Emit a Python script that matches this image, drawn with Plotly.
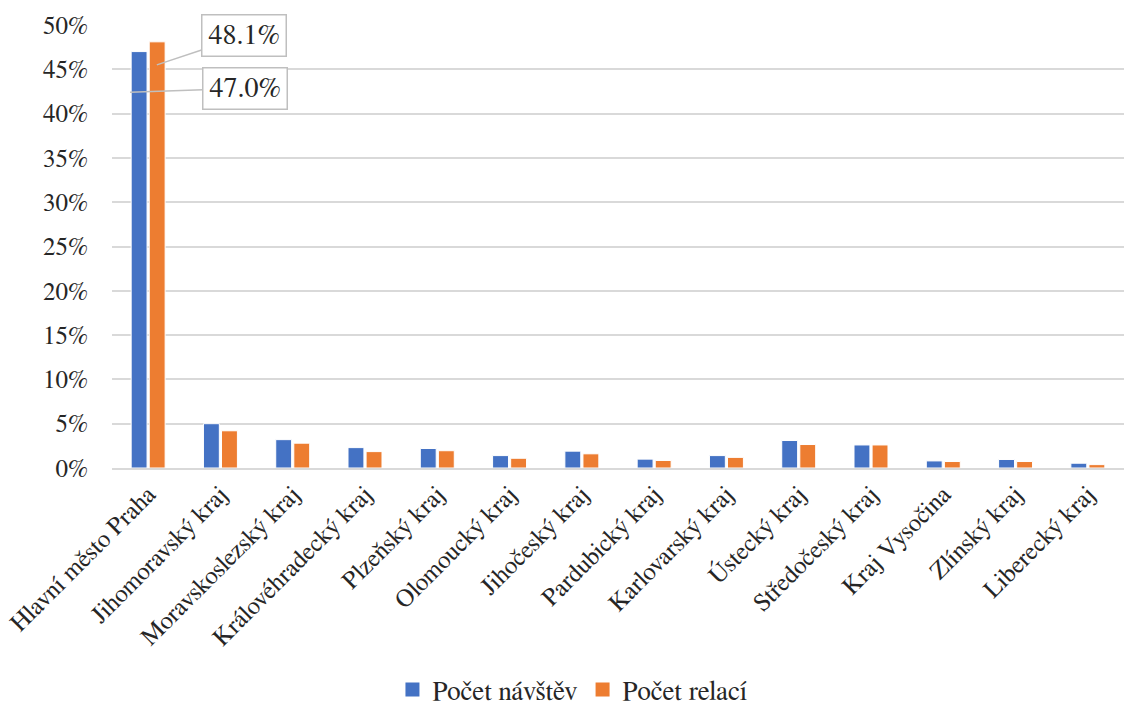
import plotly.graph_objects as go

categories = ["Hlavní město Praha", "Jihomoravský kraj", "Moravskoslezský kraj",
              "Královéhradecký kraj", "Plzeňský kraj", "Olomoucký kraj",
              "Jihočeský kraj", "Pardubický kraj", "Karlovarský kraj",
              "Ústecký kraj", "Středočeský kraj", "Kraj Vysočina",
              "Zlínský kraj", "Liberecký kraj"]
navstevy = [47.0, 5.0, 3.2, 2.3, 2.2, 1.4, 1.9, 1.0, 1.4, 3.1, 2.6, 0.8, 0.96, 0.54]
relace = [48.1, 4.2, 2.8, 1.85, 1.95, 1.1, 1.6, 0.85, 1.2, 2.65, 2.6, 0.73, 0.73, 0.38]
series_names = ["Počet návštěv", "Počet relací"]
colors = ["#4472C4", "#ED7D31"]
tick_vals = [0, 5, 10, 15, 20, 25, 30, 35, 40, 45, 50]
tick_text = [f"{v}%" for v in tick_vals]

FONT = "FreeSerif"
TXT = "#262626"

fig = go.Figure()
for name, vals, col in zip(series_names, [navstevy, relace], colors):
    fig.add_trace(go.Bar(x=categories, y=vals, name=name, showlegend=False,
                         marker=dict(color=col, line=dict(color="white", width=1))))
for name, col in zip(series_names, colors):
    fig.add_trace(go.Scatter(x=[None], y=[None], mode="markers", name=name,
                             marker=dict(symbol="square", size=14, color=col)))

ann_style = dict(showarrow=True, arrowhead=0, arrowwidth=1.5, arrowcolor="#bfbfbf",
                 bordercolor="#bfbfbf", borderwidth=1.5, borderpad=6, bgcolor="white",
                 font=dict(family=FONT, size=28, color=TXT), xref="x", yref="y")
fig.add_annotation(x=0.12, y=45.5, text=f"{relace[0]:.1f}%", ax=87, ay=-29, **ann_style)
fig.add_annotation(x=-0.25, y=42.4, text=f"{navstevy[0]:.1f}%", ax=115, ay=-4, **ann_style)

fig.update_layout(
    width=1130, height=704,
    margin=dict(l=112, r=6, t=25, b=236),
    plot_bgcolor="white", paper_bgcolor="white",
    barmode="group", bargap=0.5, bargroupgap=0.12,
    font=dict(family=FONT, size=24, color=TXT),
    legend=dict(orientation="h", x=0.455, xanchor="center", yref="container",
                y=0.02, yanchor="middle", font=dict(family=FONT, size=27, color=TXT),
                itemwidth=30, tracegroupgap=0),
    showlegend=True,
)
fig.update_xaxes(tickangle=-45, showgrid=False, showline=True, linecolor="#d9d9d9",
                 linewidth=1.5, ticks="", automargin=False,
                 tickfont=dict(family=FONT, size=25, color=TXT))
fig.update_yaxes(range=[0, 50], tickvals=tick_vals, ticktext=tick_text,
                 showgrid=True, gridcolor="#d9d9d9", gridwidth=1.5, zeroline=False,
                 showline=False, ticks="", automargin=False, ticklabelstandoff=23,
                 tickfont=dict(family=FONT, size=25, color=TXT))

fig.write_html("out.html")
